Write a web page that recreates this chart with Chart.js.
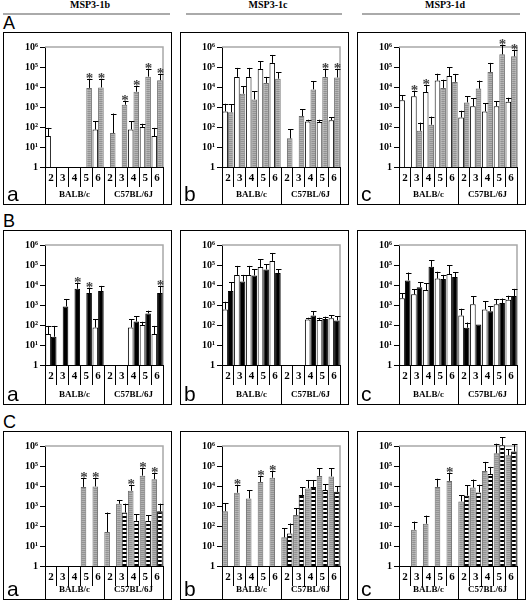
<!DOCTYPE html>
<html>
<head>
<meta charset="utf-8">
<script src="https://cdn.jsdelivr.net/npm/chart.js@4/dist/chart.umd.min.js"></script>
<style>
  body { margin: 0; background: #fff; width: 528px; height: 608px; position: relative; overflow: hidden; }
  .head { position: absolute; top: -1px; font: bold 10px "Liberation Serif", serif; transform: translateX(-50%); white-space: nowrap; }
  .rule { position: absolute; top: 13px; height: 2px; background: #aaa; }
  .row { position: absolute; left: 3px; font: 18px "Liberation Sans", Arial, sans-serif; line-height: 18px; }
  .box { position: absolute; border: 1px solid #000; }
  .box canvas { display: block; }
</style>
</head>
<body>
<div class="head" style="left:90px">MSP3-1b</div>
<div class="head" style="left:268px">MSP3-1c</div>
<div class="head" style="left:445px">MSP3-1d</div>
<div class="rule" style="left:3px;width:167px"></div>
<div class="rule" style="left:186px;width:156px"></div>
<div class="rule" style="left:362px;width:158px"></div>
<div class="row" style="top:14px">A</div>
<div class="row" style="top:212px">B</div>
<div class="row" style="top:413px">C</div>

<script>
// categories
const catLabels = ["2", "3", "4", "5", "6", "2", "3", "4", "5", "6"];
const groupLabels = ["BALB/c", "C57BL/6J"];
const yTicks = [1, 10, 100, 1000, 10000, 100000, 1000000];
const yTickLabels = ["1", "10\u00b9", "10\u00b2", "10\u00b3", "10\u2074", "10\u2075", "10\u2076"];

// MSP3-1b
const ctrl1b = [35, null, null, null, 75, null, null, 75, 100, 35];
const ctrl1bErr = [90, null, null, null, 190, null, null, 190, 145, 90];
const gray1b = [null, null, null, 9000, 9500, 50, 1300, 5800, 33000, 22000];
const gray1bErr = [null, null, null, 24000, 24000, 470, 2000, 11000, 80000, 45000];
const black1b = [26, 850, 6500, 4000, 5000, null, null, 150, 380, 4000];
const black1bErr = [90, 2000, 12000, 7000, 9000, null, null, 280, 520, 9000];
const stripe1b = [null, null, null, null, null, null, 470, 180, 180, 550];
const stripe1bErr = [null, null, null, null, null, null, 1300, 380, 350, 1300];

// MSP3-1c
const ctrl1c = [600, 32000, 32000, 80000, 160000, null, null, 190, 180, 220];
const ctrl1cErr = [1450, 90000, 90000, 190000, 400000, null, null, 230, 230, 300];
const gray1c = [550, 4600, 2400, 16000, 26000, 27, 350, 7600, 32000, 30000];
const gray1cErr = [1400, 11000, 6200, 32000, 54000, 75, 750, 20000, 76000, 76000];
const black1c = [5000, 15000, 30000, 60000, 40000, null, null, 300, 200, 170];
const black1cErr = [14000, 32000, 60000, 110000, 63000, null, null, 480, 260, 280];
const stripe1c = [null, null, null, null, null, 42, 3500, 9000, 6300, 5100];
const stripe1cErr = [null, null, null, null, null, 133, 8500, 20000, 12000, 10000];

// MSP3-1d
const ctrl1d = [2200, 3400, 5600, 21000, 35000, 300, 1100, 600, 1100, 1850];
const ctrl1dErr = [3800, 6300, 12000, 46000, 100000, 650, 2800, 1500, 1900, 2900];
const gray1d = [null, 65, 130, 9000, 18000, 1700, 8300, 56000, 430000, 340000];
const gray1dErr = [null, 165, 330, 23000, 45000, 3500, 21000, 160000, 1300000, 680000];
const black1d = [17000, 7700, 81000, 20000, 25000, 73, 105, 490, 1250, 2800];
const black1dErr = [42000, 14000, 170000, 32000, 43000, 133, null, 860, 2100, 6400];
const stripe1d = [null, null, null, null, null, 3300, 4800, 40000, 1100000, 530000];
const stripe1dErr = [null, null, null, null, null, 10700, 11500, 90000, 2800000, 1250000];

// asterisks
const none = [0, 0, 0, 0, 0, 0, 0, 0, 0, 0];
const starsAa = [0, 0, 0, 1, 1, 0, 1, 1, 1, 1];
const starsAb = [0, 0, 0, 0, 0, 0, 0, 0, 1, 1];
const starsAcWhite = [0, 1, 1, 0, 0, 0, 0, 0, 0, 0];
const starsAcGray = [0, 0, 0, 0, 0, 0, 0, 0, 1, 1];
const starsBa = [0, 0, 1, 1, 0, 0, 0, 0, 0, 1];
const starsCa = [0, 0, 0, 1, 1, 0, 0, 1, 1, 1];
const starsCb = [0, 1, 0, 1, 1, 0, 0, 0, 0, 0];
const starsCc = [0, 0, 0, 0, 1, 0, 0, 0, 0, 0];

// fill patterns
function makePattern(w, h, draw) {
  const c = document.createElement("canvas");
  c.width = w;
  c.height = h;
  draw(c.getContext("2d"));
  return c.getContext("2d").createPattern(c, "repeat");
}
const grayFill = makePattern(4, 2, (g) => {
  g.fillStyle = "#b2b2b2";
  g.fillRect(0, 0, 4, 2);
  g.fillStyle = "#939393";
  g.fillRect(0, 0, 4, 1);
});
const stripeFill = makePattern(4, 4, (g) => {
  g.fillStyle = "#fff";
  g.fillRect(0, 0, 4, 4);
  g.fillStyle = "#000";
  g.fillRect(0, 0, 4, 2);
});

function serie(kind, data, err, stars) {
  const styles = {
    white: { backgroundColor: "#fff", borderColor: "#000" },
    gray: { backgroundColor: grayFill, borderColor: "#6a6a6a" },
    black: { backgroundColor: "#000", borderColor: "#000" },
    stripe: { backgroundColor: stripeFill, borderColor: "#000" },
  };
  return {
    data: data,
    errUp: err,
    stars: stars,
    backgroundColor: styles[kind].backgroundColor,
    borderColor: styles[kind].borderColor,
    borderWidth: 1,
    clip: false,
    categoryPercentage: 0.95,
    barPercentage: 1,
  };
}

// gray plot frame at top and right
const plotFrame = {
  id: "plotFrame",
  beforeDatasetsDraw(chart) {
    const { ctx, chartArea: a } = chart;
    ctx.save();
    ctx.strokeStyle = "#a8a8a8";
    ctx.lineWidth = 1.5;
    ctx.beginPath();
    ctx.moveTo(a.left, a.top);
    ctx.lineTo(a.right, a.top);
    ctx.lineTo(a.right, a.bottom);
    ctx.stroke();
    ctx.restore();
  },
};

// upper error bars and asterisks
const errorBars = {
  id: "errorBars",
  afterDatasetsDraw(chart) {
    const ctx = chart.ctx;
    const y = chart.scales.y;
    ctx.save();
    chart.data.datasets.forEach((ds, i) => {
      const meta = chart.getDatasetMeta(i);
      meta.data.forEach((bar, j) => {
        if (ds.data[j] == null) return;
        let top = bar.y;
        if (ds.errUp[j] != null) {
          top = y.getPixelForValue(ds.errUp[j]);
          ctx.strokeStyle = "#000";
          ctx.lineWidth = 1;
          ctx.beginPath();
          ctx.moveTo(Math.round(bar.x) + 0.5, bar.y);
          ctx.lineTo(Math.round(bar.x) + 0.5, top);
          ctx.moveTo(Math.round(bar.x) - 2, Math.round(top) + 0.5);
          ctx.lineTo(Math.round(bar.x) + 3.5, Math.round(top) + 0.5);
          ctx.stroke();
        }
        if (ds.stars[j]) {
          ctx.fillStyle = "#444";
          ctx.font = "bold 15px 'Liberation Serif', serif";
          ctx.textAlign = "center";
          ctx.textBaseline = "alphabetic";
          ctx.fillText("*", bar.x + 0.5, top + 4);
        }
      });
    });
    ctx.restore();
  },
};

// group level of the category axis and panel letter
const groupAxis = {
  id: "groupAxis",
  afterDraw(chart, args, opts) {
    const ctx = chart.ctx;
    const x = chart.scales.x;
    const base = chart.chartArea.bottom;
    const h = chart.height;
    const half = (x.getPixelForValue(4) + x.getPixelForValue(5)) / 2;
    ctx.save();
    ctx.strokeStyle = "#000";
    ctx.lineWidth = 1;
    ctx.beginPath();
    [x.left, half, x.right].forEach((px) => {
      ctx.moveTo(Math.round(px) + 0.5, base);
      ctx.lineTo(Math.round(px) + 0.5, h);
    });
    ctx.stroke();
    ctx.fillStyle = "#000";
    ctx.font = "bold 9px 'Liberation Serif', serif";
    ctx.textAlign = "center";
    ctx.textBaseline = "middle";
    ctx.fillText(groupLabels[0], (x.left + half) / 2, h - 9);
    ctx.fillText(groupLabels[1], (half + x.right) / 2, h - 9);
    ctx.font = "21px 'Liberation Sans', Arial, sans-serif";
    ctx.textAlign = "left";
    ctx.textBaseline = "alphabetic";
    ctx.fillText(opts.letter, 3, h - 3);
    ctx.restore();
  },
};

function panel(left, top, w, h, letter, datasets) {
  const box = document.createElement("div");
  box.className = "box";
  box.style.left = left + "px";
  box.style.top = top + "px";
  const canvas = document.createElement("canvas");
  canvas.width = w;
  canvas.height = h;
  canvas.style.width = w + "px";
  canvas.style.height = h + "px";
  box.appendChild(canvas);
  document.body.appendChild(box);

  new Chart(canvas, {
    type: "bar",
    data: { labels: catLabels, datasets: datasets },
    options: {
      responsive: false,
      animation: false,
      devicePixelRatio: 1,
      layout: { padding: { left: 1, right: 8, top: 14, bottom: 0 } },
      plugins: {
        legend: { display: false },
        tooltip: { enabled: false },
        groupAxis: { letter: letter },
      },
      scales: {
        x: {
          type: "category",
          afterFit: (s) => { s.height = h - 134; },
          grid: { offset: true, drawOnChartArea: false, tickLength: 20, color: "#000", lineWidth: 1 },
          border: { color: "#000", width: 1 },
          ticks: {
            autoSkip: false,
            maxRotation: 0,
            padding: -15,
            color: "#000",
            font: { family: "'Liberation Serif', serif", weight: "bold", size: 11 },
          },
        },
        y: {
          type: "logarithmic",
          min: 1,
          max: 1000000,
          afterBuildTicks: (s) => { s.ticks = yTicks.map((v) => ({ value: v })); },
          afterFit: (s) => { s.width = 40; },
          grid: { drawOnChartArea: false, tickLength: 5, color: "#000" },
          border: { color: "#000", width: 1 },
          ticks: {
            padding: 2,
            color: "#000",
            font: { family: "'Liberation Serif', serif", weight: "bold", size: 10 },
            callback: (v) => { const k = yTicks.indexOf(v); return k < 0 ? "" : yTickLabels[k]; },
          },
        },
      },
    },
    plugins: [plotFrame, errorBars, groupAxis],
  });
}

const colX = [3, 180, 357];
const W = 167;

// row A
panel(colX[0], 32, W, 171, "a", [serie("white", ctrl1b, ctrl1bErr, none), serie("gray", gray1b, gray1bErr, starsAa)]);
panel(colX[1], 32, W, 171, "b", [serie("white", ctrl1c, ctrl1cErr, none), serie("gray", gray1c, gray1cErr, starsAb)]);
panel(colX[2], 32, W, 171, "c", [serie("white", ctrl1d, ctrl1dErr, starsAcWhite), serie("gray", gray1d, gray1dErr, starsAcGray)]);
// row B
panel(colX[0], 230, W, 173, "a", [serie("white", ctrl1b, ctrl1bErr, none), serie("black", black1b, black1bErr, starsBa)]);
panel(colX[1], 230, W, 173, "b", [serie("white", ctrl1c, ctrl1cErr, none), serie("black", black1c, black1cErr, none)]);
panel(colX[2], 230, W, 173, "c", [serie("white", ctrl1d, ctrl1dErr, none), serie("black", black1d, black1dErr, none)]);
// row C
panel(colX[0], 431, W, 167, "a", [serie("gray", gray1b, gray1bErr, starsCa), serie("stripe", stripe1b, stripe1bErr, none)]);
panel(colX[1], 431, W, 167, "b", [serie("gray", gray1c, gray1cErr, starsCb), serie("stripe", stripe1c, stripe1cErr, none)]);
panel(colX[2], 431, W, 167, "c", [serie("gray", gray1d, gray1dErr, starsCc), serie("stripe", stripe1d, stripe1dErr, none)]);
</script>
</body>
</html>
